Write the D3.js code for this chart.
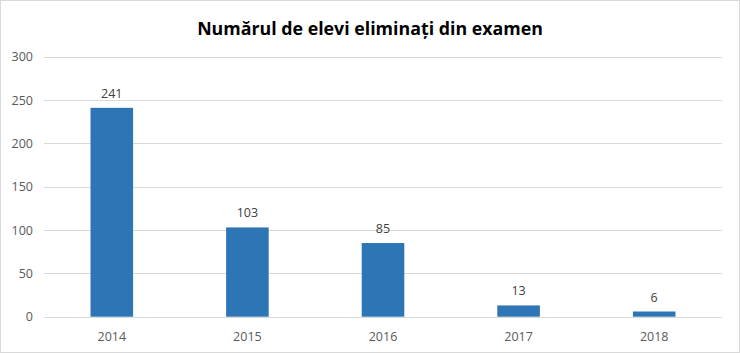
<!DOCTYPE html>
<html>
<head>
<meta charset="utf-8">
<script src="https://cdn.jsdelivr.net/npm/d3@7"></script>
<style>
  body { margin: 0; background: #fff; }
  svg text { font-family: "Open Sans", "Liberation Sans", sans-serif; }
</style>
</head>
<body>
<div id="chart"></div>
<script>
  // data
  var years = ['2014', '2015', '2016', '2017', '2018'];
  var values = [241, 103, 85, 13, 6];
  var yTicks = [0, 50, 100, 150, 200, 250, 300];
  var title = 'Numărul de elevi eliminați din examen';

  var width = 740, height = 353;
  var svg = d3.select('#chart').append('svg')
    .attr('width', width)
    .attr('height', height);

  // outer frame
  svg.append('rect')
    .attr('x', 0.5).attr('y', 0.5)
    .attr('width', width - 1).attr('height', height - 1)
    .attr('fill', '#fff')
    .attr('stroke', '#d9d9d9');

  svg.append('text')
    .attr('x', 370)
    .attr('y', 35)
    .attr('text-anchor', 'middle')
    .attr('font-size', 17.8)
    .attr('font-weight', 'bold')
    .attr('fill', '#000')
    .text(title);

  var x = d3.scaleBand()
    .domain(years)
    .range([44, 722])
    .paddingInner(0.686)
    .paddingOuter(0.343);

  var y = d3.scaleLinear()
    .domain([0, 300])
    .range([316.7, 56.7]);

  // gridlines
  svg.append('g')
    .selectAll('line')
    .data(yTicks)
    .enter().append('line')
    .attr('x1', 44).attr('x2', 722)
    .attr('y1', function (d) { return Math.round(y(d)) + 0.5; })
    .attr('y2', function (d) { return Math.round(y(d)) + 0.5; })
    .attr('stroke', '#d9d9d9');

  // y labels
  var yAxis = d3.axisLeft(y).tickValues(yTicks).tickSize(0).tickPadding(0);
  var gy = svg.append('g')
    .attr('transform', 'translate(33,0)')
    .call(yAxis);
  gy.select('.domain').remove();
  gy.selectAll('text')
    .attr('font-size', 12.5)
    .attr('fill', '#595959')
    .style('font-family', '"Open Sans", sans-serif');

  // x labels
  var xAxis = d3.axisBottom(x).tickSize(0).tickPadding(0);
  var gx = svg.append('g')
    .attr('transform', 'translate(0,332)')
    .call(xAxis);
  gx.select('.domain').remove();
  gx.selectAll('text')
    .attr('font-size', 12.5)
    .attr('fill', '#595959')
    .style('font-family', '"Open Sans", sans-serif');

  // bars
  svg.append('g')
    .selectAll('rect')
    .data(values)
    .enter().append('rect')
    .attr('x', function (d, i) { return x(years[i]); })
    .attr('y', function (d) { return y(d); })
    .attr('width', x.bandwidth())
    .attr('height', function (d) { return y(0) - y(d); })
    .attr('fill', '#2e75b6');

  // value labels
  svg.append('g')
    .selectAll('text')
    .data(values)
    .enter().append('text')
    .attr('x', function (d, i) { return x(years[i]) + x.bandwidth() / 2; })
    .attr('y', function (d) { return y(d) - 10; })
    .attr('text-anchor', 'middle')
    .attr('font-size', 12.5)
    .attr('fill', '#404040')
    .text(function (d) { return d; });
</script>
</body>
</html>
